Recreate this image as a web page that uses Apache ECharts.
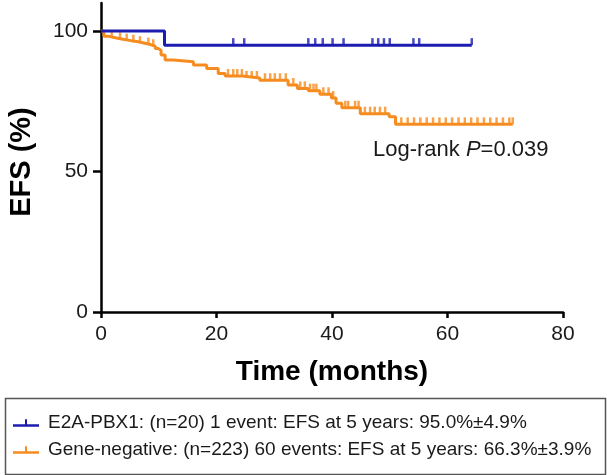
<!DOCTYPE html>
<html>
<head>
<meta charset="utf-8">
<script src="https://cdn.jsdelivr.net/npm/echarts@6/dist/echarts.min.js"></script>
<style>html,body{margin:0;padding:0;background:#fff}#c{width:607px;height:475px}</style>
</head>
<body>
<div id="c"></div>
<script>
// ---- data ----
var seriesNames = ['E2A-PBX1: (n=20) 1 event: EFS at 5 years: 95.0%\u00b14.9%',
                   'Gene-negative: (n=223) 60 events: EFS at 5 years: 66.3%\u00b13.9%'];
var e2aTimes = [0, 11.0, 64.2];
var e2aSurv  = [100, 95.0, 95.0];
var e2aCensor = [22.9, 24.8, 35.9, 37.1, 38.4, 40.1, 42.0, 47.0, 48.0, 49.0, 50.0, 54.1, 55.1, 64.2];

var negTimes = [0, 0.5, 1.2, 2.5, 3.8, 5.2, 6.5, 7.6, 8.6, 9.4, 9.9, 10.4, 11.1, 12.5, 16.0, 18.3, 20.3, 21.5, 24.5, 27.5, 32.4, 34.0, 35.9, 37.9, 39.9, 40.7, 41.7, 44.9, 49.9, 51.0, 71.3];
var negSurv  = [100, 98.2, 97.6, 97.1, 96.6, 96.2, 95.7, 95.2, 94.6, 93.8, 93.2, 91.5, 89.7, 89.1, 87.9, 86.7, 84.9, 84.0, 83.3, 82.5, 80.8, 79.6, 78.8, 77.5, 76.2, 74.3, 72.7, 70.6, 69.5, 66.8, 66.8];
var negCensor = [1.85, 3.3, 4.45, 5.6, 6.75, 8.2, 9.05,
                 22.0, 22.9, 23.6, 24.4, 25.2, 26.1, 27.0,
                 28.4, 29.3, 30.1, 31.0, 32.0,
                 33.3, 34.5, 35.3, 36.2, 36.8, 37.3, 38.5, 39.4, 40.2,
                 42.3, 42.8, 44.0, 44.6, 45.7, 46.6, 47.4, 48.3, 49.2,
                 52.0, 53.1, 54.2, 55.3, 56.4, 57.5, 58.6, 59.7, 60.8, 61.9, 63.0, 64.1, 65.2, 66.3, 67.4, 68.5, 69.6, 70.7, 71.3];
var xTicks = [0, 20, 40, 60, 80];
var yTicks = [0, 50, 100];
var xTitle = 'Time (months)';
var yTitle = 'EFS (%)';

// ---- build ----
var blue = '#1c1cb0', orange = '#f68c1f';
function pairs(ts, vs){ return ts.map(function(t,i){ return [t, vs[i]]; }); }
function survAt(ts, vs, t){ var v = vs[0]; for (var i=0;i<ts.length;i++){ if (ts[i] <= t) v = vs[i]; } return v; }
function censorPts(c, ts, vs){ return c.map(function(t){ return [t, survAt(ts, vs, t)]; }); }

var font = 'Liberation Sans, Arial, Helvetica, sans-serif';
var legendIcon = 'path://M0,7 L26,7 L26,9.5 L0,9.5 Z M12,2 L14,2 L14,7 L12,7 Z';

var chart = echarts.init(document.getElementById('c'), null, {renderer:'canvas'});
chart.setOption({
  animation: false,
  backgroundColor: '#fff',
  grid: {left: 101, right: 44, top: 3, bottom: 163, containLabel: false},
  xAxis: {
    type: 'value', min: 0, max: 80, interval: 20,
    name: xTitle, nameLocation: 'middle', nameGap: 46,
    nameTextStyle: {fontFamily: font, fontSize: 28, fontWeight: 'bold', color: '#000'},
    axisLine: {show: true, onZero: false, lineStyle: {color: '#000', width: 2.5}},
    axisTick: {show: true, length: 6, lineStyle: {color: '#000', width: 2.5}},
    axisLabel: {fontFamily: font, fontSize: 21, color: '#1a1a1a', margin: 12},
    splitLine: {show: false}
  },
  yAxis: {
    type: 'value', min: 0, max: 110,
    axisLine: {show: true, onZero: false, lineStyle: {color: '#000', width: 2.5}},
    axisTick: {show: true, length: 8, customValues: yTicks, lineStyle: {color: '#000', width: 2.5}},
    axisLabel: {fontFamily: font, fontSize: 21, color: '#1a1a1a', margin: 13, customValues: yTicks},
    splitLine: {show: false}
  },
  legend: {
    data: seriesNames,
    orient: 'vertical', left: 8, top: 407, itemGap: 5,
    itemWidth: 26, itemHeight: 10, icon: legendIcon,
    textStyle: {fontFamily: font, fontSize: 19, color: '#1a1a1a', padding: [0,0,0,4], lineHeight: 22}
  },
  graphic: [
    {type: 'rect', left: 3, top: 396, shape: {width: 600, height: 76},
     style: {fill: 'none', stroke: '#555', lineWidth: 1.5}, z: 0},
    {type: 'text', x: 22, y: 162, rotation: Math.PI / 2,
     style: {text: yTitle, fontFamily: font, fontSize: 29, fontWeight: 'bold', fill: '#000',
             align: 'center', verticalAlign: 'middle'}},
    {type: 'text', left: 373, top: 139,
     style: {text: '{a|Log-rank }{p|P}{a|=0.039}',
       rich: {a: {fontFamily: font, fontSize: 22, fill: '#1a1a1a'},
              p: {fontFamily: font, fontSize: 22, fontStyle: 'italic', fill: '#1a1a1a'}}}}
  ],
  series: [
    {name: seriesNames[0], type: 'line', step: 'end', data: pairs(e2aTimes, e2aSurv),
     showSymbol: false, symbol: 'none', color: blue, itemStyle: {color: blue},
     lineStyle: {color: blue, width: 3}, z: 3},
    {name: seriesNames[1], type: 'line', step: 'end', data: pairs(negTimes, negSurv),
     showSymbol: false, symbol: 'none', color: orange, itemStyle: {color: orange},
     lineStyle: {color: orange, width: 3}, z: 2},
    {name: 'e2a-censor', type: 'scatter', data: censorPts(e2aCensor, e2aTimes, e2aSurv),
     symbol: 'rect', symbolSize: [2.5, 7], symbolOffset: [0, -3.5], itemStyle: {color: blue}, z: 3},
    {name: 'neg-censor', type: 'scatter', data: censorPts(negCensor, negTimes, negSurv),
     symbol: 'rect', symbolSize: [2.5, 7], symbolOffset: [0, -3.5], itemStyle: {color: orange}, z: 2}
  ]
});
</script>
</body>
</html>
